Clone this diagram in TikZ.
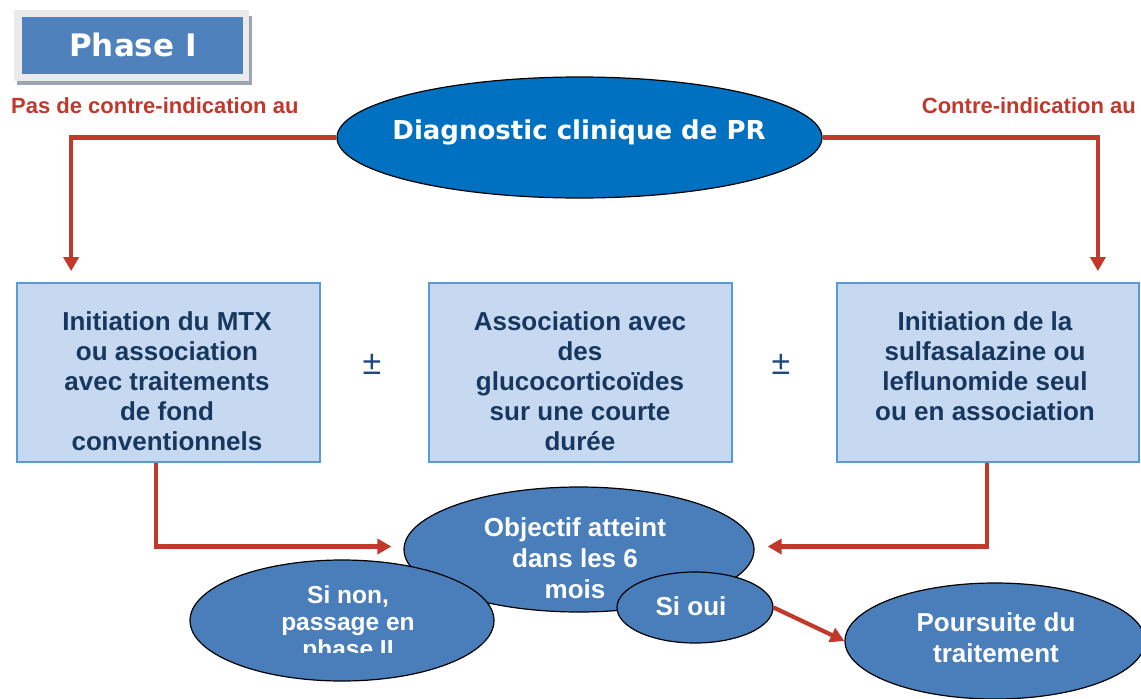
\documentclass[tikz,border=0pt]{standalone}
\usepackage{fontspec}
\setmainfont{Liberation Sans}
\newfontfamily\vfont{DejaVu Sans}
\usetikzlibrary{shapes.geometric,arrows.meta}
\definecolor{diagblue}{HTML}{0070C0}
\definecolor{ellblue}{HTML}{4A7EBB}
\definecolor{phaseblue}{HTML}{4F81BD}
\definecolor{boxfill}{HTML}{C6D9F1}
\definecolor{boxline}{HTML}{5B9BD5}
\definecolor{navy}{HTML}{17375E}
\definecolor{redc}{HTML}{C0392B}
\definecolor{pmcol}{HTML}{1F497D}
\definecolor{shadowgray}{HTML}{9DA5B4}
\definecolor{framegray}{HTML}{EAEAEA}
\begin{document}
\begin{tikzpicture}[x=1pt,y=-1pt,
  ell/.style={ellipse, draw=black, line width=1.2pt, fill=ellblue, inner sep=0pt},
  box/.style={rectangle, draw=boxline, line width=1.8pt, fill=boxfill, inner sep=0pt,
    minimum width=303pt, minimum height=179pt},
  boxtext/.style={text=navy, font=\fontsize{26}{30}\selectfont\bfseries, align=center, inner sep=0pt},
  elltext/.style={text=white, font=\fontsize{26}{31}\selectfont\bfseries, align=center, inner sep=0pt},
  redlabel/.style={text=redc, font=\fontsize{22}{25}\selectfont\bfseries, inner sep=0pt},
  pm/.style={text=pmcol, font=\fontsize{34}{36}\selectfont, inner sep=0pt},
  redline/.style={draw=redc, line width=4.2pt},
  redarrow/.style={redline, -{Triangle[length=14pt,width=15pt]}}]
\useasboundingbox (0,0) rectangle (1141,699);

% Phase I
\fill[shadowgray] (17,16) rectangle (252,85);
\fill[framegray] (14,10) rectangle (249,81);
\node[rectangle, fill=phaseblue, minimum width=221pt, minimum height=57pt, inner sep=0pt] (phase) at (132.5,45.5) {};
\node[text=white, font=\vfont\fontsize{31}{33}\selectfont\bfseries, inner sep=0pt] (phasetxt) at (133,45) {Phase I};

% red labels
\node[redlabel, anchor=west] (lblleft) at (11,106) {Pas de contre-indication au};
\node[redlabel, anchor=east] (lblright) at (1136,106) {Contre-indication au};

% diagnostic
\node[ellipse, draw=black, line width=1.2pt, fill=diagblue, inner sep=0pt,
  minimum width=485pt, minimum height=121pt] (diag) at (579.5,137.5) {};
\node[text=white, font=\vfont\fontsize{26}{30}\selectfont\bfseries, inner sep=0pt] (diagtxt) at (579,132) {Diagnostic clinique de PR};

% boxes
\node[box] (box1) at (168.5,372.5) {};
\node[box] (box2) at (580.5,372.5) {};
\node[box, minimum width=302pt] (box3) at (988,372.5) {};
\node[boxtext] (t1) at (167,381) {Initiation du MTX\\ou association\\avec traitements\\de fond\\conventionnels};
\node[boxtext] (t2) at (580,381) {Association avec\\des\\glucocorticoïdes\\sur une courte\\durée};
\node[boxtext] (t3) at (985,366) {Initiation de la\\sulfasalazine ou\\leflunomide seul\\ou en association};
\node[pm] (pm1) at (372,364) {±};
\node[pm] (pm2) at (781,364) {±};

% arrows from diagnostic
\draw[redarrow] (diag.west) -| ([xshift=55pt,yshift=11pt]box1.north west);
\draw[redarrow] (diag.east) -| ([xshift=-42pt,yshift=11pt]box3.north east);

% bottom ellipses
\node[ell, minimum width=350pt, minimum height=125pt] (obj) at (579,549.5) {};
\draw[redarrow] ([xshift=140pt]box1.south west) |- ([xshift=-12pt,yshift=3pt]obj.west);
\draw[redarrow] ([xshift=151pt]box3.south west) |- ([xshift=13pt,yshift=3pt]obj.east);
\node[elltext] (objtxt) at (575,558) {Objectif atteint\\dans les 6\\mois};
\node[ell, minimum width=304pt, minimum height=121pt] (sinon) at (342,620.5) {};
\begin{scope}
  \clip (150,540) rectangle (520,652);
  \node[elltext, font=\fontsize{24.5}{27}\selectfont\bfseries] (sinontxt) at (348,624) {Si non,\\passage en\\phase II};
\end{scope}
\node[ell, minimum width=156pt, minimum height=71pt] (sioui) at (695,607.5) {};
\node[elltext] (siouitxt) at (691,606) {Si oui};
\node[ell, minimum width=300pt, minimum height=116pt] (pours) at (995,641) {};
\node[elltext] (pourstxt) at (996,638) {Poursuite du\\traitement};
\draw[redarrow] (sioui.east) -- (pours.west);
\end{tikzpicture}
\end{document}
